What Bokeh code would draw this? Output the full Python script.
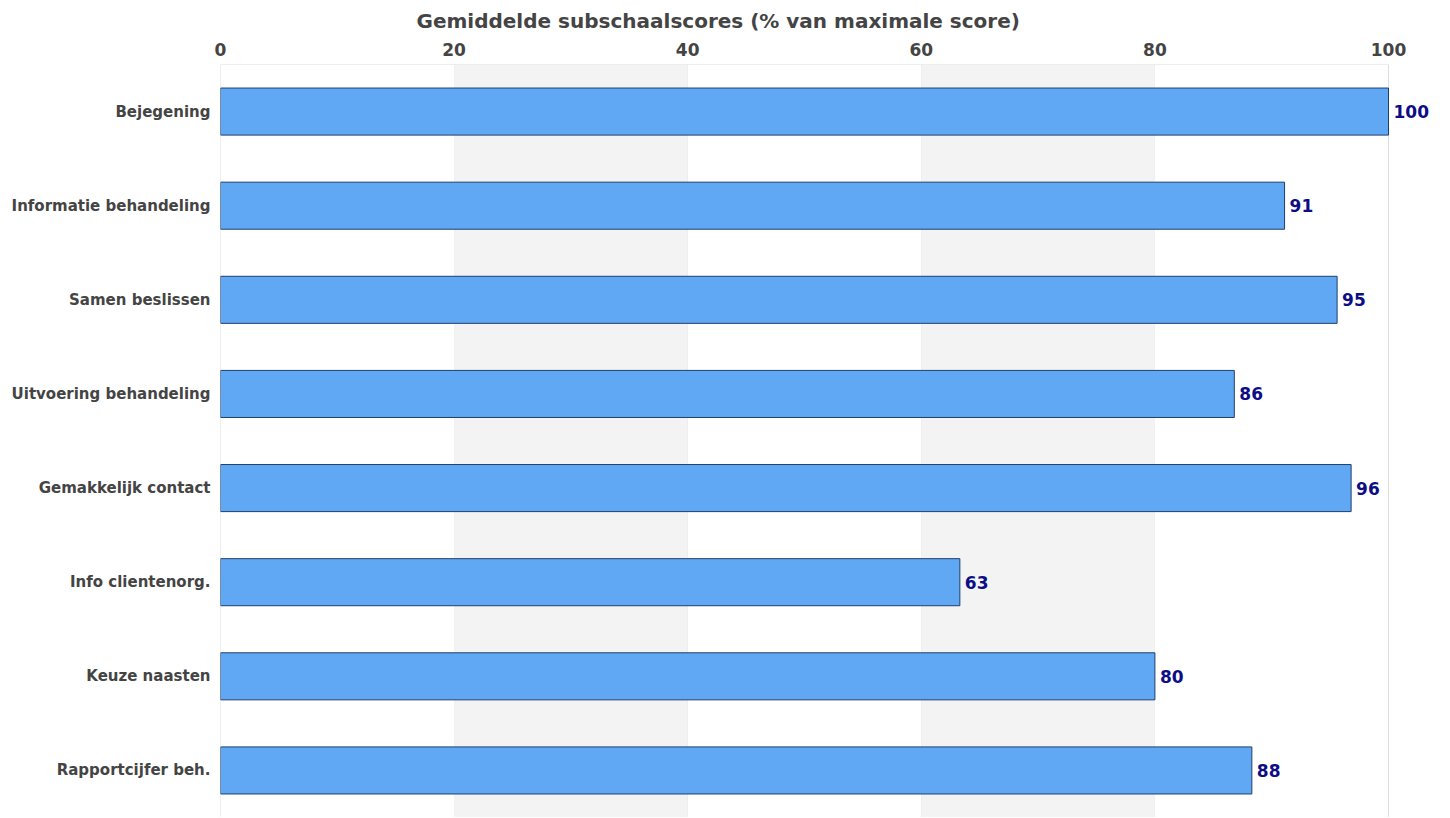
from bokeh.plotting import figure
from bokeh.models import FactorRange, Range1d, ColumnDataSource, BoxAnnotation, FixedTicker, Title
from bokeh.embed import file_html
from bokeh.resources import INLINE
from bokeh.core.properties import value

categories = ["Bejegening", "Informatie behandeling", "Samen beslissen", "Uitvoering behandeling",
              "Gemakkelijk contact", "Info clientenorg.", "Keuze naasten", "Rapportcijfer beh."]
scores = [100, 91.1, 95.6, 86.8, 96.8, 63.3, 80.0, 88.3]
score_labels = ["100", "91", "95", "86", "96", "63", "80", "88"]
x_ticks = [0, 20, 40, 60, 80, 100]

src = ColumnDataSource(dict(cat=categories, val=scores, lab=score_labels))

axis_px = 1168          # pixel width of the 0..100 scale
extra_px = 52           # room right of 100 for the value labels
x_max = 100
x_end = x_max * (axis_px + extra_px) / axis_px

p = figure(frame_width=axis_px + extra_px, frame_height=753, output_backend="svg", toolbar_location=None,
           y_range=FactorRange(*categories[::-1]), x_range=Range1d(0, x_end),
           x_axis_location="above", min_border_left=220, min_border_right=0,
           min_border_top=57, min_border_bottom=0, min_border=0)

t = Title(text="Gemiddelde subschaalscores (% van maximale score)", align="left", offset=196,
          text_font="DejaVu Sans", text_font_size="20px", text_font_style="bold",
          text_color="#444444", standoff=13)
p.add_layout(t, "above")

p.outline_line_color = None

for a, b in [(20, 40), (60, 80)]:
    p.add_layout(BoxAnnotation(left=a, right=b, fill_color="#f3f3f3", fill_alpha=1,
                               line_alpha=0, level="underlay"))

# plot-area border from 0 to 100
p.add_layout(BoxAnnotation(left=0, right=x_max, fill_alpha=0, line_color="#dddddd",
                           line_alpha=1, line_width=1, level="underlay"))

p.hbar(y="cat", right="val", left=0, height=0.5, source=src,
       fill_color="#60a8f4", line_color="#1e3f6e", line_width=1)

p.text(x="val", y="cat", text="lab", source=src, x_offset=5, text_baseline="middle",
       text_align="left", text_font=value("DejaVu Sans"), text_font_style="bold",
       text_font_size="17px", text_color="#0d0d85")

p.xaxis.ticker = FixedTicker(ticks=x_ticks)
p.xaxis.axis_line_color = None
p.xaxis.major_tick_line_color = None
p.xaxis.minor_tick_line_color = None
p.xaxis.major_label_text_font = "DejaVu Sans"
p.xaxis.major_label_text_font_style = "bold"
p.xaxis.major_label_text_font_size = "17px"
p.xaxis.major_label_text_color = "#444444"
p.xaxis.major_label_standoff = 3

p.yaxis.axis_line_color = None
p.yaxis.major_tick_line_color = None
p.yaxis.minor_tick_line_color = None
p.yaxis.major_label_text_font = "DejaVu Sans"
p.yaxis.major_label_text_font_style = "bold"
p.yaxis.major_label_text_font_size = "15px"
p.yaxis.major_label_text_color = "#444444"
p.yaxis.major_label_standoff = 4

p.xgrid.grid_line_color = "#e3e3e3"
p.xgrid.ticker = FixedTicker(ticks=[20, 40, 60, 80])
p.ygrid.grid_line_color = None

open("out.html", "w").write(file_html(p, INLINE))
